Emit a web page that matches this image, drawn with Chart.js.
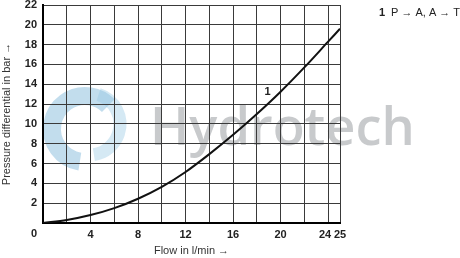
<!DOCTYPE html>
<html>
<head>
<meta charset="utf-8">
<script src="https://cdn.jsdelivr.net/npm/chart.js@4.4.1/dist/chart.umd.min.js"></script>
<style>
    html, body { margin: 0; padding: 0; background: #fff; }
    #wrap { width: 460px; height: 258px; }
</style>
</head>
<body>
<div id="wrap"><canvas id="PressureChart" width="460" height="258"></canvas></div>
<script>
// values
const flowValues = [0, 2, 4, 6, 8, 10, 12, 14, 16, 18, 20, 22, 24, 25];
const pressureValues = [0, 0.3, 0.8, 1.5, 2.45, 3.65, 5.15, 6.95, 8.9, 11.0, 13.25, 15.7, 18.3, 19.6];

const xGridTicks = [0, 2, 4, 6, 8, 10, 12, 14, 16, 18, 20, 22, 24, 25];
const xTickLabels = [4, 8, 12, 16, 20, 24, 25];
const yMax = 22;

const curveName = '1';
const curveLabelAt = { x: 18.9, y: 13.2 };
const legendText = 'P \u2192 A, A \u2192 T';
const watermarkText = 'Hydrotech';

const FONT = '"Liberation Sans", Arial, sans-serif';

document.addEventListener('DOMContentLoaded', () => {
    const ctx = document.getElementById('PressureChart').getContext('2d');

    // faded logo behind the grid
    const watermark = {
        id: 'watermark',
        beforeDraw(chart) {
            const c = chart.ctx;
            c.save();
            // blue swirl
            c.lineCap = 'butt';
            c.strokeStyle = 'rgba(120, 180, 215, 0.45)';
            c.lineWidth = 18;
            c.beginPath();
            c.arc(85, 129, 33, Math.PI * 0.55, Math.PI * 1.75);
            c.stroke();
            c.strokeStyle = 'rgba(150, 200, 228, 0.4)';
            c.lineWidth = 13;
            c.beginPath();
            c.arc(89, 124, 31, Math.PI * 1.6, Math.PI * 2.45);
            c.stroke();
            // gray lettering
            c.fillStyle = '#c8cacc';
            c.font = '600 50px "Open Sans", sans-serif';
            const w = c.measureText(watermarkText).width;
            const size = 50 * 265 / w;
            c.font = '600 ' + size.toFixed(1) + 'px "Open Sans", sans-serif';
            c.textBaseline = 'alphabetic';
            c.textAlign = 'left';
            c.fillText(watermarkText, 150, 145);
            c.restore();
        }
    };

    // origin label, curve number and legend line
    const extraText = {
        id: 'extraText',
        afterDraw(chart) {
            const c = chart.ctx;
            const xs = chart.scales.x;
            const ys = chart.scales.y;
            c.save();
            c.fillStyle = '#222';
            c.textBaseline = 'middle';

            c.font = 'bold 11px ' + FONT;
            c.textAlign = 'right';
            c.fillText('0', ys.right - 6, chart.chartArea.bottom + 11);

            c.textAlign = 'center';
            c.fillText(curveName, xs.getPixelForValue(curveLabelAt.x), ys.getPixelForValue(curveLabelAt.y));

            c.textAlign = 'left';
            c.fillText(curveName, 379, 13);
            c.font = '11px ' + FONT;
            c.fillText(legendText, 391, 13);
            c.restore();
        }
    };

    new Chart(ctx, {
        type: 'scatter',
        data: {
            datasets: [{
                label: curveName,
                data: flowValues.map((f, i) => ({ x: f, y: pressureValues[i] })),
                showLine: true,
                borderColor: '#111',
                borderWidth: 2,
                pointRadius: 0,
                cubicInterpolationMode: 'monotone'
            }]
        },
        options: {
            responsive: false,
            animation: false,
            layout: { padding: { top: 5, right: 120, left: 0, bottom: 0 } },
            plugins: {
                legend: { display: false },
                tooltip: { enabled: false }
            },
            scales: {
                x: {
                    type: 'linear',
                    min: 0,
                    max: 25,
                    afterBuildTicks: scale => {
                        scale.ticks = xGridTicks.map(v => ({ value: v }));
                    },
                    afterFit: scale => { scale.height = 35; },
                    grid: { color: '#3a3a3a', lineWidth: 1, drawTicks: false },
                    border: { color: '#000', width: 2 },
                    ticks: {
                        autoSkip: false,
                        maxRotation: 0,
                        padding: 5,
                        color: '#222',
                        font: { family: FONT, size: 11, weight: 'bold' },
                        // "24" sits a little left so it does not run into "25"
                        callback: value => {
                            if (!xTickLabels.includes(value)) return '';
                            return value === 24 ? '24\u00a0\u00a0' : String(value);
                        }
                    },
                    title: {
                        display: true,
                        text: 'Flow in l/min \u2192',
                        color: '#333',
                        font: { family: FONT, size: 11 },
                        padding: { top: 3, bottom: 0 }
                    }
                },
                y: {
                    min: 0,
                    max: yMax,
                    afterFit: scale => {
                        scale.width = 43;
                        scale.paddingTop = 0;
                    },
                    grid: { color: '#3a3a3a', lineWidth: 1, drawTicks: false },
                    border: { color: '#000', width: 2 },
                    ticks: {
                        stepSize: 2,
                        padding: 6,
                        color: '#222',
                        font: { family: FONT, size: 11, weight: 'bold' },
                        callback: value => value === 0 ? '' : String(value)
                    },
                    title: {
                        display: true,
                        text: 'Pressure differential in bar \u2192',
                        color: '#333',
                        font: { family: FONT, size: 11 },
                        padding: 0
                    }
                }
            }
        },
        plugins: [watermark, extraText]
    });
});
</script>
</body>
</html>
